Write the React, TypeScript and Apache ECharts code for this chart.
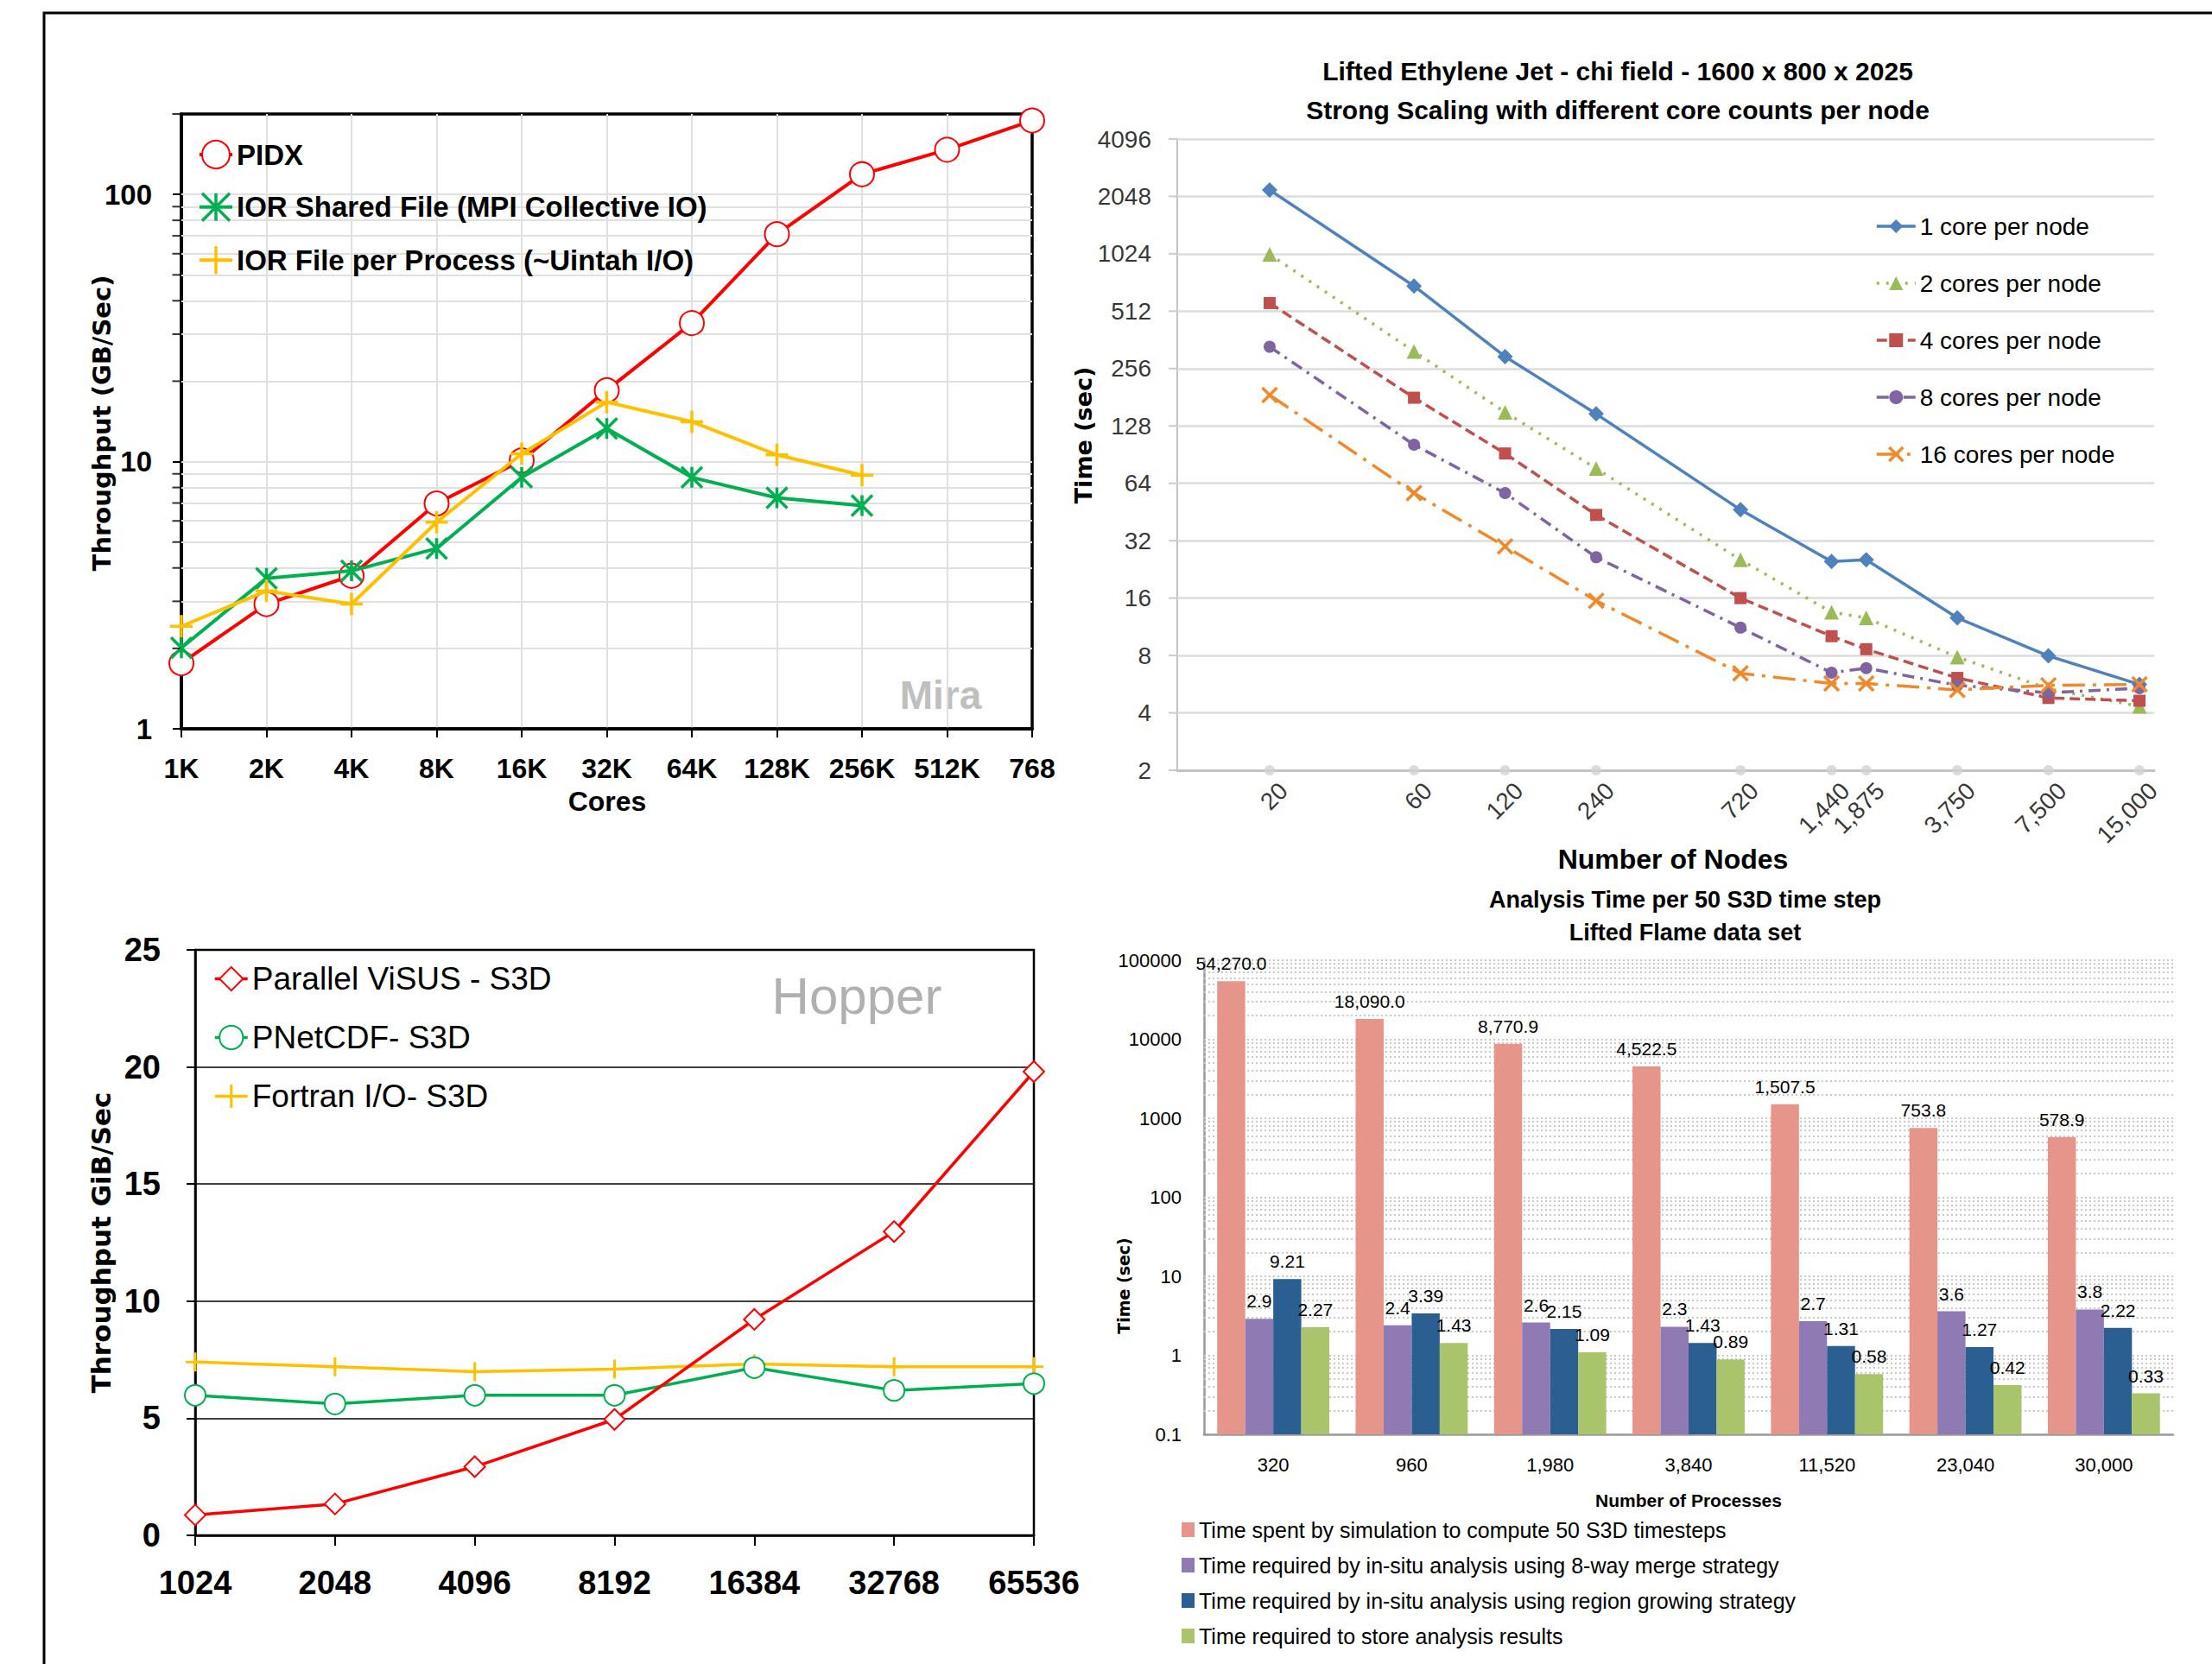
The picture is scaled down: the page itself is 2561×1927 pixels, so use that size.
import React, { useEffect, useRef } from 'react';
import * as echarts from 'echarts';

// ---------- Chart 1 (Mira) ----------
const CORE_LABELS = ['1K', '2K', '4K', '8K', '16K', '32K', '64K', '128K', '256K', '512K', '768'];
const PIDX = [1.76, 2.93, 3.74, 6.97, 10.1, 18.5, 33, 71, 119, 147, 189];
const IOR_SHARED = [2.01, 3.66, 3.9, 4.73, 8.73, 13.3, 8.73, 7.32, 6.84, null, null];
const IOR_FPP = [2.42, 3.28, 2.93, 5.93, 10.7, 16.7, 14.1, 10.6, 8.9, null, null];
const MIRA_GRID = [2, 3, 4, 5, 6, 7, 8, 9, 10, 20, 30, 40, 50, 60, 70, 80, 90, 100];
const MIRA_MINOR = [2, 3, 4, 5, 6, 7, 8, 9, 20, 30, 40, 50, 60, 70, 80, 90, 200];

// ---------- Chart 2 (strong scaling) ----------
const NODES = [20, 60, 120, 240, 720, 1440, 1875, 3750, 7500, 15000];
const T1 = [2215, 694, 296, 148, 46.5, 24.9, 25.4, 12.6, 7.96, 5.64];
const T2 = [1018, 315, 151, 76.6, 25.4, 13.5, 12.6, 7.85, 5.35, 4.33];
const T4 = [565, 180, 91.8, 43.7, 16, 10.1, 8.63, 6.1, 4.79, 4.63];
const T8 = [333, 102, 56.9, 26.2, 11.2, 6.5, 6.87, 5.58, 5.1, 5.39];
const T16 = [186, 56.9, 29.9, 15.5, 6.45, 5.7, 5.7, 5.28, 5.58, 5.64];
const TIME_TICKS = [2, 4, 8, 16, 32, 64, 128, 256, 512, 1024, 2048, 4096];

// ---------- Chart 3 (Hopper) ----------
const HOPPER_CORES = ['1024', '2048', '4096', '8192', '16384', '32768', '65536'];
const VISUS = [0.87, 1.34, 2.93, 4.95, 9.22, 12.97, 19.8];
const PNETCDF = [5.98, 5.61, 5.98, 5.98, 7.16, 6.19, 6.48];
const FORTRAN = [7.4, 7.2, 6.99, 7.1, 7.32, 7.2, 7.2];

// ---------- Chart 4 (analysis time) ----------
const PROCS = ['320', '960', '1,980', '3,840', '11,520', '23,040', '30,000'];
const SIM = [54270, 18090, 8770.9, 4522.5, 1507.5, 753.8, 578.9];
const MERGE8 = [2.9, 2.4, 2.6, 2.3, 2.7, 3.6, 3.8];
const REGION = [9.21, 3.39, 2.15, 1.43, 1.31, 1.27, 2.22];
const STORE = [2.27, 1.43, 1.09, 0.89, 0.58, 0.42, 0.33];
const BAR_NAMES = [
  'Time spent by simulation to compute 50 S3D timesteps',
  'Time required by in-situ analysis using 8-way merge strategy',
  'Time required by in-situ analysis using region growing strategy',
  'Time required to store analysis results',
];

const ARIAL = "'Liberation Sans', Arial, sans-serif";
const VERDANA = "'DejaVu Sans', Verdana, sans-serif";

const ASTERISK = 'path://M5,0 L5,10 M0,0 L10,10 M0,10 L10,0';
const PLUS = 'path://M0,5 L10,5 M5,0 L5,10';
const XMARK = 'path://M0,0 L10,10 M0,10 L10,0';

const X2_MIN = 9.9;
const X2_MAX = 16770;

function logGrid(): number[] {
  const out: number[] = [];
  for (let e = -1; e <= 4; e++) {
    for (let m = 1; m <= 9; m++) {
      if (e === -1 && m === 1) continue;
      out.push(+(m * Math.pow(10, e)).toPrecision(6));
    }
  }
  out.push(100000);
  return out;
}

function txt(text: string, x: number, y: number, size: number, opts: any = {}) {
  return {
    type: 'text',
    x,
    y,
    rotation: opts.rot ? Math.PI / 2 : 0,
    silent: true,
    style: {
      text,
      fill: opts.fill || '#000',
      fontSize: size,
      fontWeight: opts.weight || 'bold',
      fontFamily: opts.family || ARIAL,
      align: 'center',
      verticalAlign: 'middle',
    },
  };
}

export default function App() {
  const ref = useRef<HTMLDivElement>(null);

  useEffect(() => {
    document.body.style.margin = '0';
    document.body.style.overflow = 'hidden';
    const chart = echarts.init(ref.current!, null, { renderer: 'svg' });

    const gridLine = (values: number[], color: string, width: number, type: any) => ({
      silent: true,
      symbol: ['none', 'none'],
      z: 1,
      label: { show: false },
      lineStyle: { color, width, type },
      emphasis: { disabled: true },
      data: values.map((v) => ({ yAxis: v })),
    });

    const legendBase = {
      orient: 'vertical',
      selectedMode: false,
      lineStyle: { width: 'inherit' },
      itemStyle: { borderWidth: 'inherit' },
    };

    const option: any = {
      animation: false,
      backgroundColor: '#ffffff',
      textStyle: { fontFamily: ARIAL },
      grid: [
        { left: 210, top: 132, width: 985, height: 712, show: true, borderColor: '#000', borderWidth: 3.5 },
        { left: 1363, top: 161, width: 1131, height: 731 },
        { left: 226, top: 1100, width: 971, height: 678, show: true, borderColor: '#000', borderWidth: 2.5 },
        { left: 1394, top: 1112, width: 1122, height: 549 },
      ],
      xAxis: [
        {
          gridIndex: 0,
          type: 'category',
          data: CORE_LABELS,
          boundaryGap: false,
          axisLine: { onZero: false, lineStyle: { color: '#000', width: 3.5 } },
          axisTick: { show: true, length: 10, lineStyle: { color: '#000', width: 2 } },
          axisLabel: { interval: 0, margin: 30, fontSize: 32, fontWeight: 'bold', color: '#000' },
          splitLine: {
            show: true,
            interval: (i: number) => i > 0 && i < CORE_LABELS.length - 1,
            lineStyle: { color: '#e0e0e0', width: 2 },
          },
        },
        {
          gridIndex: 1,
          type: 'log',
          logBase: 10,
          min: X2_MIN,
          max: X2_MAX,
          axisLine: { show: true, onZero: false, lineStyle: { color: '#c4c4c4', width: 3 } },
          axisTick: { show: false },
          axisLabel: { show: false },
          splitLine: { show: false },
        },
        {
          gridIndex: 2,
          type: 'category',
          data: HOPPER_CORES,
          boundaryGap: false,
          axisLine: { onZero: false, lineStyle: { color: '#000', width: 2.5 } },
          axisTick: { show: true, length: 12, lineStyle: { color: '#000', width: 2 } },
          axisLabel: { interval: 0, margin: 36, fontSize: 38, fontWeight: 'bold', color: '#000' },
          splitLine: { show: false },
        },
        {
          gridIndex: 3,
          type: 'category',
          data: PROCS,
          axisLine: { onZero: false, lineStyle: { color: '#9a9a9a', width: 2.5 } },
          axisTick: { show: false },
          axisLabel: { interval: 0, margin: 24, fontSize: 22, color: '#000' },
          splitLine: { show: false },
        },
      ],
      yAxis: [
        {
          gridIndex: 0,
          type: 'log',
          logBase: 10,
          min: 1,
          max: 200,
          axisLine: { show: true, lineStyle: { color: '#000', width: 3.5 } },
          axisTick: { show: true, length: 10, lineStyle: { color: '#000', width: 2 } },
          axisLabel: { margin: 34, fontSize: 33, fontWeight: 'bold', color: '#000', showMaxLabel: false },
          splitLine: { show: false },
        },
        {
          gridIndex: 1,
          type: 'log',
          logBase: 2,
          min: 2,
          max: 4096,
          axisLine: { show: true, lineStyle: { color: '#c4c4c4', width: 2 } },
          axisTick: { show: false },
          axisLabel: { show: false },
          splitLine: { show: false },
        },
        {
          gridIndex: 2,
          type: 'value',
          min: 0,
          max: 25,
          interval: 5,
          axisLine: { show: true, lineStyle: { color: '#000', width: 2.5 } },
          axisTick: { show: true, length: 10, lineStyle: { color: '#000', width: 2 } },
          axisLabel: { margin: 40, fontSize: 38, fontWeight: 'bold', color: '#000' },
          splitLine: { show: true, lineStyle: { color: '#000', width: 1.5 } },
        },
        {
          gridIndex: 3,
          type: 'log',
          logBase: 10,
          min: 0.1,
          max: 100000,
          startValue: 0.1,
          axisLine: { show: true, lineStyle: { color: '#9a9a9a', width: 2.5 } },
          axisTick: { show: false },
          axisLabel: {
            margin: 26,
            fontSize: 22,
            color: '#000',
            formatter: (v: number) => String(+(+v).toPrecision(6)),
          },
          splitLine: { show: false },
        },
      ],
      legend: [
        {
          ...legendBase,
          data: ['PIDX', 'IOR Shared File (MPI Collective IO)', 'IOR File per Process (~Uintah I/O)'],
          left: 224,
          top: 157,
          itemWidth: 38,
          itemHeight: 40,
          itemGap: 26,
          textStyle: { fontSize: 33, fontWeight: 'bold', color: '#000', fontFamily: ARIAL },
        },
        {
          ...legendBase,
          data: ['1 core per node', '2 cores per node', '4 cores per node', '8 cores per node', '16 cores per node'],
          left: 2166,
          top: 243,
          itemWidth: 45,
          itemHeight: 20,
          itemGap: 38,
          textStyle: { fontSize: 28, color: '#000', fontFamily: ARIAL },
        },
        {
          ...legendBase,
          data: ['Parallel ViSUS - S3D', 'PNetCDF- S3D', 'Fortran I/O- S3D'],
          left: 242,
          top: 1110,
          itemWidth: 38,
          itemHeight: 34,
          itemGap: 31,
          textStyle: { fontSize: 37, color: '#000', fontFamily: ARIAL },
        },
        {
          data: BAR_NAMES,
          orient: 'vertical',
          left: 1363,
          top: 1754,
          itemWidth: 15,
          itemHeight: 17,
          itemGap: 16,
          icon: 'rect',
          selectedMode: false,
          textStyle: { fontSize: 25, color: '#000', fontFamily: ARIAL },
        },
      ],
      series: [
        // ----- chart 1 -----
        {
          name: 'PIDX',
          type: 'line',
          xAxisIndex: 0,
          yAxisIndex: 0,
          data: PIDX,
          color: '#FF0000',
          symbol: 'emptyCircle',
          symbolSize: 28,
          lineStyle: { color: '#FF0000', width: 4 },
          itemStyle: { color: '#FF0000', borderColor: '#FF0000', borderWidth: 3.5 },
          z: 3,
          markLine: gridLine(MIRA_GRID, '#e0e0e0', 2, 'solid'),
        },
        {
          name: 'IOR Shared File (MPI Collective IO)',
          type: 'line',
          xAxisIndex: 0,
          yAxisIndex: 0,
          data: IOR_SHARED,
          color: '#00B050',
          symbol: ASTERISK,
          symbolSize: 24,
          lineStyle: { color: '#00B050', width: 4 },
          itemStyle: { color: '#00B050', borderColor: '#00B050', borderWidth: 3.5 },
          z: 4,
        },
        {
          name: 'IOR File per Process (~Uintah I/O)',
          type: 'line',
          xAxisIndex: 0,
          yAxisIndex: 0,
          data: IOR_FPP,
          color: '#FFC000',
          symbol: PLUS,
          symbolSize: 26,
          lineStyle: { color: '#FFC000', width: 4 },
          itemStyle: { color: '#FFC000', borderColor: '#FFC000', borderWidth: 3.5 },
          z: 5,
        },
        {
          name: '_minorticks1',
          type: 'scatter',
          xAxisIndex: 0,
          yAxisIndex: 0,
          data: MIRA_MINOR.map((v) => [0, v]),
          symbol: 'rect',
          symbolSize: [9, 2],
          symbolOffset: [-6, 0],
          itemStyle: { color: '#000' },
          clip: false,
          silent: true,
          z: 6,
        },
        // ----- chart 2 helpers -----
        {
          name: '_ylabels2',
          type: 'scatter',
          xAxisIndex: 1,
          yAxisIndex: 1,
          data: TIME_TICKS.map((t) => [X2_MIN, t]),
          symbol: 'rect',
          symbolSize: [10, 2],
          symbolOffset: [-5, 0],
          itemStyle: { color: '#bfbfbf' },
          clip: false,
          silent: true,
          label: {
            show: true,
            position: 'left',
            distance: 20,
            fontSize: 28,
            color: '#000',
            fontFamily: ARIAL,
            formatter: (p: any) => String(p.value[1]),
          },
          markLine: gridLine(TIME_TICKS.slice(1), '#dcdcdc', 2.5, 'solid'),
        },
        {
          name: '_xlabels2',
          type: 'scatter',
          xAxisIndex: 1,
          yAxisIndex: 1,
          data: NODES.map((n) => [n, TIME_TICKS[0]]),
          symbol: 'circle',
          symbolSize: 12,
          itemStyle: { color: '#d2d2d2' },
          clip: false,
          silent: true,
          z: 1,
          label: {
            show: true,
            position: [22, 25],
            rotate: 45,
            align: 'right',
            verticalAlign: 'middle',
            fontSize: 28,
            color: '#000',
            fontFamily: ARIAL,
            formatter: (p: any) => Number(p.value[0]).toLocaleString('en-US'),
          },
        },
        // ----- chart 2 -----
        ...[
          { name: '1 core per node', d: T1, c: '#4F81BD', s: 'diamond', sz: 18, dash: 'solid' },
          { name: '2 cores per node', d: T2, c: '#9BBB59', s: 'triangle', sz: 17, dash: [3, 8] },
          { name: '4 cores per node', d: T4, c: '#C0504D', s: 'rect', sz: 14, dash: [12, 6] },
          { name: '8 cores per node', d: T8, c: '#8064A2', s: 'circle', sz: 14, dash: [14, 7, 3, 7] },
          { name: '16 cores per node', d: T16, c: '#F0892A', s: XMARK, sz: 17, dash: [26, 9, 4, 9] },
        ].map((o) => ({
          name: o.name,
          type: 'line',
          xAxisIndex: 1,
          yAxisIndex: 1,
          data: NODES.map((n, i) => [n, o.d[i]]),
          color: o.c,
          symbol: o.s,
          symbolSize: o.sz,
          lineStyle: { color: o.c, width: 3.5, type: o.dash },
          itemStyle: o.s === XMARK
            ? { color: o.c, borderColor: o.c, borderWidth: 3.5 }
            : { color: o.c, borderWidth: 0 },
          z: 3,
        })),
        // ----- chart 3 -----
        {
          name: 'Parallel ViSUS - S3D',
          type: 'line',
          xAxisIndex: 2,
          yAxisIndex: 2,
          data: VISUS,
          color: '#FF0000',
          symbol: 'emptyDiamond',
          symbolSize: 24,
          lineStyle: { color: '#FF0000', width: 3.5 },
          itemStyle: { color: '#FF0000', borderColor: '#FF0000', borderWidth: 3 },
          z: 5,
        },
        {
          name: 'PNetCDF- S3D',
          type: 'line',
          xAxisIndex: 2,
          yAxisIndex: 2,
          data: PNETCDF,
          color: '#00B050',
          symbol: 'emptyCircle',
          symbolSize: 24,
          lineStyle: { color: '#00B050', width: 3.5 },
          itemStyle: { color: '#00B050', borderColor: '#00B050', borderWidth: 3 },
          z: 4,
        },
        {
          name: 'Fortran I/O- S3D',
          type: 'line',
          xAxisIndex: 2,
          yAxisIndex: 2,
          data: FORTRAN,
          color: '#FFC000',
          symbol: PLUS,
          symbolSize: 22,
          lineStyle: { color: '#FFC000', width: 3.5 },
          itemStyle: { color: '#FFC000', borderColor: '#FFC000', borderWidth: 3 },
          z: 3,
        },
        // ----- chart 4 -----
        ...[
          { d: SIM, c: '#E6958A', fmt: (v: number) => v.toLocaleString('en-US', { minimumFractionDigits: 1, maximumFractionDigits: 1 }) },
          { d: MERGE8, c: '#8F7AB3', fmt: (v: number) => String(v) },
          { d: REGION, c: '#2B5F92', fmt: (v: number) => String(v) },
          { d: STORE, c: '#AAC46C', fmt: (v: number) => String(v) },
        ].map((o, k) => ({
          name: BAR_NAMES[k],
          type: 'bar',
          xAxisIndex: 3,
          yAxisIndex: 3,
          data: o.d,
          color: o.c,
          barGap: '0%',
          barCategoryGap: '19%',
          itemStyle: { color: o.c },
          z: 3,
          label: {
            show: true,
            position: 'top',
            distance: 10,
            fontSize: 21,
            color: '#000',
            fontFamily: ARIAL,
            formatter: (p: any) => o.fmt(p.value),
          },
          markLine: k === 0 ? gridLine(logGrid(), '#c9c9c9', 2, [2, 3]) : undefined,
        })),
      ],
      graphic: [
        {
          type: 'polyline',
          silent: true,
          shape: { points: [[51, 1927], [51, 15], [2561, 15]] },
          style: { stroke: '#000', lineWidth: 3, fill: 'none' },
        },
        txt('Throughput (GB/Sec)', 118, 490, 29, { rot: true, family: VERDANA }),
        txt('Cores', 703, 928, 32),
        txt('Mira', 1089, 805, 46, { fill: '#bfbfbf' }),
        txt('Lifted Ethylene Jet - chi field - 1600 x 800 x 2025', 1873, 82, 30),
        txt('Strong Scaling with different core counts per node', 1873, 127, 30),
        txt('Time (sec)', 1254, 504, 27, { rot: true, family: VERDANA }),
        txt('Number of Nodes', 1937, 995, 32),
        txt('Throughput GiB/Sec', 117, 1439, 31, { rot: true, family: VERDANA }),
        txt('Hopper', 992, 1153, 60, { fill: '#b0b0b0', weight: 'normal' }),
        txt('Analysis Time per 50 S3D time step', 1951, 1042, 27),
        txt('Lifted Flame data set', 1951, 1080, 27),
        txt('Time (sec)', 1301, 1489, 19, { rot: true, family: VERDANA }),
        txt('Number of Processes', 1955, 1737, 21),
      ],
    };

    chart.setOption(option);
    return () => chart.dispose();
  }, []);

  return <div ref={ref} style={{ width: 2561, height: 1927 }} />;
}
